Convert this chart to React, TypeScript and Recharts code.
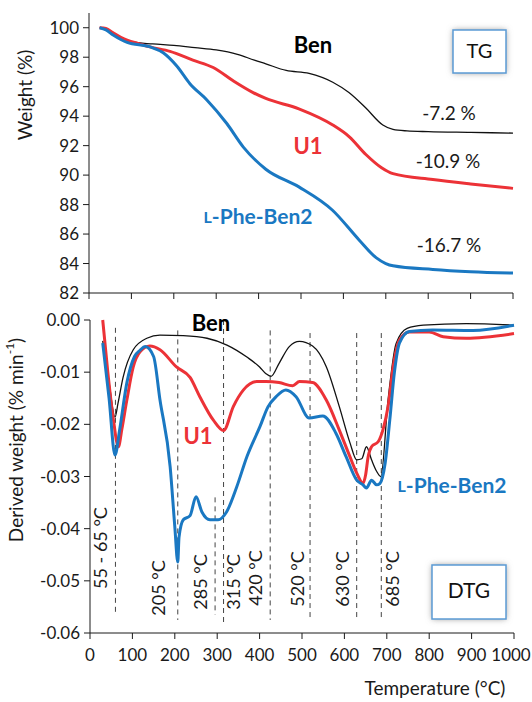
import React from "react";
import { LineChart, Line, XAxis, YAxis, ReferenceLine } from "recharts";

/* ── data ──────────────────────────────────────────────────── */

// TG curves: [temperature °C, weight %]
const tgBen = [
  [25, 100], [40, 99.85], [60, 99.45], [80, 99.2], [100, 99.05], [150, 98.9],
  [200, 98.8], [250, 98.65], [300, 98.5], [350, 98.2], [390, 97.8], [417, 97.55],
  [465, 97.1], [519, 96.9], [575, 96.3], [613, 95.6], [653, 94.55], [693, 93.4],
  [717, 93.1], [750, 93.0], [800, 92.95], [900, 92.9], [1000, 92.85],
];
const tgU1 = [
  [25, 100], [40, 99.95], [57, 99.65], [75, 99.35], [90, 99.15], [120, 98.9],
  [144, 98.7], [191, 98.4], [245, 97.8], [293, 97.3], [340, 96.4], [387, 95.6],
  [417, 95.2], [495, 94.5], [575, 93.4], [614, 92.6], [653, 91.4], [690, 90.5],
  [717, 90.1], [811, 89.7], [900, 89.4], [1000, 89.1],
];
const tgPhe = [
  [25, 100], [40, 99.85], [57, 99.5], [75, 99.2], [90, 99.0], [144, 98.7],
  [175, 98.3], [207, 97.4], [238, 96.2], [278, 95.1], [325, 93.5], [364, 91.9],
  [417, 90.4], [495, 89.2], [575, 87.6], [637, 85.6], [677, 84.4], [700, 84.0],
  [717, 83.85], [811, 83.6], [900, 83.45], [1000, 83.35],
];

// DTG curves: [temperature °C, derived weight % min-1]
const dtgBen = [
  [30, -0.004], [45, -0.012], [59, -0.0186], [66, -0.016], [78, -0.011],
  [102, -0.0057], [134, -0.0035], [165, -0.0029], [220, -0.003], [276, -0.0035],
  [323, -0.0048], [370, -0.0071], [400, -0.009], [415, -0.0103], [427, -0.0108],
  [446, -0.0083], [470, -0.0051], [494, -0.0041], [525, -0.005], [557, -0.0089],
  [588, -0.0166], [613, -0.0235], [629, -0.0268], [641, -0.0266], [652, -0.0243],
  [664, -0.0268], [676, -0.029], [686, -0.03], [703, -0.0153], [722, -0.0045],
  [748, -0.0016], [786, -0.001], [887, -0.0007], [1000, -0.001],
];
const dtgU1 = [
  [30, 0], [42, -0.01], [55, -0.019], [67, -0.0243], [75, -0.021], [87, -0.0153],
  [102, -0.009], [118, -0.0061], [141, -0.005], [165, -0.0057], [204, -0.009],
  [236, -0.011], [259, -0.0147], [291, -0.0192], [315, -0.0212], [338, -0.0166],
  [362, -0.0134], [393, -0.0118], [415, -0.0118], [446, -0.012], [478, -0.0126],
  [494, -0.0118], [525, -0.012], [557, -0.0153], [588, -0.0211], [613, -0.0262],
  [630, -0.0295], [644, -0.0313], [650, -0.0297], [656, -0.0262], [664, -0.0243],
  [680, -0.0233], [691, -0.021], [703, -0.0166], [715, -0.009], [730, -0.0038],
  [753, -0.0023], [800, -0.0023], [833, -0.0032], [887, -0.0035], [1000, -0.0026],
];
const dtgPhe = [
  [30, -0.0044], [45, -0.015], [59, -0.0259], [70, -0.021], [87, -0.012],
  [105, -0.007], [118, -0.0058], [130, -0.0051], [150, -0.007], [165, -0.0153],
  [189, -0.0281], [200, -0.0396], [207, -0.0464], [210, -0.0416], [220, -0.0383],
  [236, -0.0375], [250, -0.0339], [264, -0.0368], [283, -0.0383], [302, -0.0383],
  [322, -0.0368], [346, -0.032], [370, -0.0262], [401, -0.0204], [420, -0.0166],
  [439, -0.0147], [462, -0.0134], [486, -0.0147], [517, -0.0188], [549, -0.0184],
  [580, -0.0217], [604, -0.0262], [629, -0.0307], [644, -0.0316], [652, -0.0322],
  [664, -0.0307], [676, -0.0316], [684, -0.0313], [696, -0.0275], [707, -0.0192],
  [718, -0.01], [730, -0.0044], [753, -0.0022], [808, -0.0019], [903, -0.002],
  [1000, -0.001],
];

// dashed event markers: [temperature, top, bottom]
const markers = [
  [60, -0.0015, -0.0567], [207, -0.002, -0.0575], [295, -0.034, -0.0565],
  [315, 0, -0.058], [425, -0.002, -0.0575], [519, -0.0025, -0.0575],
  [629, -0.0025, -0.0575], [687, -0.0025, -0.0575],
];

const tempTicks = [0, 100, 200, 300, 400, 500, 600, 700, 800, 900, 1000];
const tgTicks = [82, 84, 86, 88, 90, 92, 94, 96, 98, 100];
const dtgTicks = [-0.06, -0.05, -0.04, -0.03, -0.02, -0.01, 0];

/* ── helpers ───────────────────────────────────────────────── */

const toRows = (pts: number[][]) => pts.map(([t, v]) => ({ t, v }));

const FONT = "Lato, 'Open Sans', sans-serif";
const BLUE = "#1a78c2";
const RED = "#ec3237";
const INK = "#1a1a1a";
const tickStyle = { fontFamily: FONT, fontSize: 17, fill: INK };

// x tick: the last label is nudged in so it stays inside the page
function TempTick(props: any) {
  const { x, y, payload } = props;
  const last = payload.value === 1000;
  return (
    <text x={last ? x - 3 : x} y={y + 14} textAnchor="middle" style={tickStyle} fill={INK}>
      {payload.value}
    </text>
  );
}

function PheLabel({ x, y }: { x: number; y: number }) {
  return (
    <text x={x} y={y} fill={BLUE} fontWeight="bold" fontSize={21} textAnchor="middle" dominantBaseline="middle">
      <tspan fontSize={16}>L</tspan>-Phe-Ben2
    </text>
  );
}

function Box({ x, y, w, h, label, size }: { x: number; y: number; w: number; h: number; label: string; size: number }) {
  return (
    <g>
      <rect x={x} y={y} width={w} height={h} fill="#999" filter="url(#blur)" />
      <rect x={x} y={y} width={w} height={h} fill="#fff" stroke="#5b9bd5" strokeWidth={1.5} />
      <text x={x + w / 2} y={y + h / 2 + 1} fontSize={size} textAnchor="middle" dominantBaseline="middle" fill="#111">
        {label}
      </text>
    </g>
  );
}

export default function App() {
  const tempLabels = [
    { s: "55 - 65 °C", x: 102, y: 548 },
    { s: "205 °C", x: 160, y: 588 },
    { s: "285 °C", x: 202, y: 582 },
    { s: "315 °C", x: 235, y: 582 },
    { s: "420 °C", x: 257, y: 578 },
    { s: "520 °C", x: 299, y: 579 },
    { s: "630 °C", x: 344, y: 579 },
    { s: "685 °C", x: 394, y: 579 },
  ];

  return (
    <div style={{ position: "absolute", left: 0, top: 0, width: 532, height: 702, background: "#fff", fontFamily: FONT }}>
      {/* TG */}
      <div style={{ position: "absolute", left: 0, top: 0 }}>
        <LineChart width={532} height={312} margin={{ top: 13, right: 19, left: 39, bottom: 12 }}>
          <XAxis
            type="number"
            dataKey="t"
            domain={[0, 1000]}
            ticks={tempTicks}
            tickFormatter={() => ""}
            interval={0}
            height={7}
            stroke={INK}
          />
          <YAxis
            type="number"
            domain={[82, 101]}
            ticks={tgTicks}
            interval={0}
            width={50}
            tick={tickStyle}
            tickMargin={4}
            stroke={INK}
          />
          <Line data={toRows(tgBen)} dataKey="v" type="monotone" stroke="#111" strokeWidth={1.3} dot={false} isAnimationActive={false} />
          <Line data={toRows(tgU1)} dataKey="v" type="monotone" stroke={RED} strokeWidth={3} dot={false} isAnimationActive={false} />
          <Line data={toRows(tgPhe)} dataKey="v" type="monotone" stroke={BLUE} strokeWidth={3} dot={false} isAnimationActive={false} />
        </LineChart>
      </div>

      {/* DTG */}
      <div style={{ position: "absolute", left: 0, top: 300 }}>
        <LineChart width={532} height={402} margin={{ top: 20, right: 18, left: 40, bottom: 39 }}>
          <XAxis
            type="number"
            dataKey="t"
            domain={[0, 1000]}
            ticks={tempTicks}
            interval={0}
            height={30}
            tick={<TempTick />}
            tickMargin={8}
            stroke={INK}
          />
          <YAxis
            type="number"
            domain={[-0.06, 0]}
            ticks={dtgTicks}
            interval={0}
            width={50}
            tick={tickStyle}
            tickMargin={4}
            tickFormatter={(v: number) => v.toFixed(2)}
            stroke={INK}
          />
          {markers.map(([t, top, bot]) => (
            <ReferenceLine
              key={t}
              segment={[{ x: t, y: top }, { x: t, y: bot }]}
              stroke="#444"
              strokeDasharray="5 4"
              strokeWidth={1}
              ifOverflow="extendDomain"
            />
          ))}
          <Line data={toRows(dtgBen)} dataKey="v" type="monotone" stroke="#111" strokeWidth={1.3} dot={false} isAnimationActive={false} />
          <Line data={toRows(dtgU1)} dataKey="v" type="monotone" stroke={RED} strokeWidth={3} dot={false} isAnimationActive={false} />
          <Line data={toRows(dtgPhe)} dataKey="v" type="monotone" stroke={BLUE} strokeWidth={3} dot={false} isAnimationActive={false} />
        </LineChart>
      </div>

      {/* annotations */}
      <svg width={532} height={702} style={{ position: "absolute", left: 0, top: 0, pointerEvents: "none", fontFamily: FONT }}>
        <defs>
          <filter id="blur" x="-30%" y="-30%" width="160%" height="160%">
            <feGaussianBlur stdDeviation="3" />
          </filter>
        </defs>

        <text transform="translate(27,95) rotate(-90)" textAnchor="middle" dominantBaseline="middle" fontSize={19} fill={INK}>
          Weight (%)
        </text>
        <text transform="translate(18,440) rotate(-90)" textAnchor="middle" dominantBaseline="middle" fontSize={19} fill={INK}>
          Derived weight (% min<tspan fontSize={12} dy={-7}>-1</tspan><tspan dy={7}>)</tspan>
        </text>
        <text x={435} y={690} textAnchor="middle" dominantBaseline="middle" fontSize={19} fill={INK}>
          Temperature (°C)
        </text>

        <text x={313} y={47} fontWeight="bold" fontSize={22} textAnchor="middle" dominantBaseline="middle" fill="#000">Ben</text>
        <text x={308} y={148} fontWeight="bold" fontSize={22} textAnchor="middle" dominantBaseline="middle" fill={RED}>U1</text>
        <PheLabel x={258} y={219} />
        <text x={449} y={115} fontSize={19} textAnchor="middle" dominantBaseline="middle" fill={INK}>-7.2 %</text>
        <text x={448} y={163} fontSize={19} textAnchor="middle" dominantBaseline="middle" fill={INK}>-10.9 %</text>
        <text x={449} y={247} fontSize={19} textAnchor="middle" dominantBaseline="middle" fill={INK}>-16.7 %</text>
        <Box x={453} y={30} w={53} h={43} label="TG" size={20} />

        <text x={211} y={325} fontWeight="bold" fontSize={22} textAnchor="middle" dominantBaseline="middle" fill="#000">Ben</text>
        <text x={198} y={438} fontWeight="bold" fontSize={22} textAnchor="middle" dominantBaseline="middle" fill={RED}>U1</text>
        <PheLabel x={452} y={488} />
        {tempLabels.map((l) => (
          <text key={l.s} transform={`translate(${l.x},${l.y}) rotate(-90)`} textAnchor="middle" dominantBaseline="middle" fontSize={18} fill={INK}>
            {l.s}
          </text>
        ))}
        <Box x={432} y={565} w={74} h={54} label="DTG" size={21} />
      </svg>
    </div>
  );
}
